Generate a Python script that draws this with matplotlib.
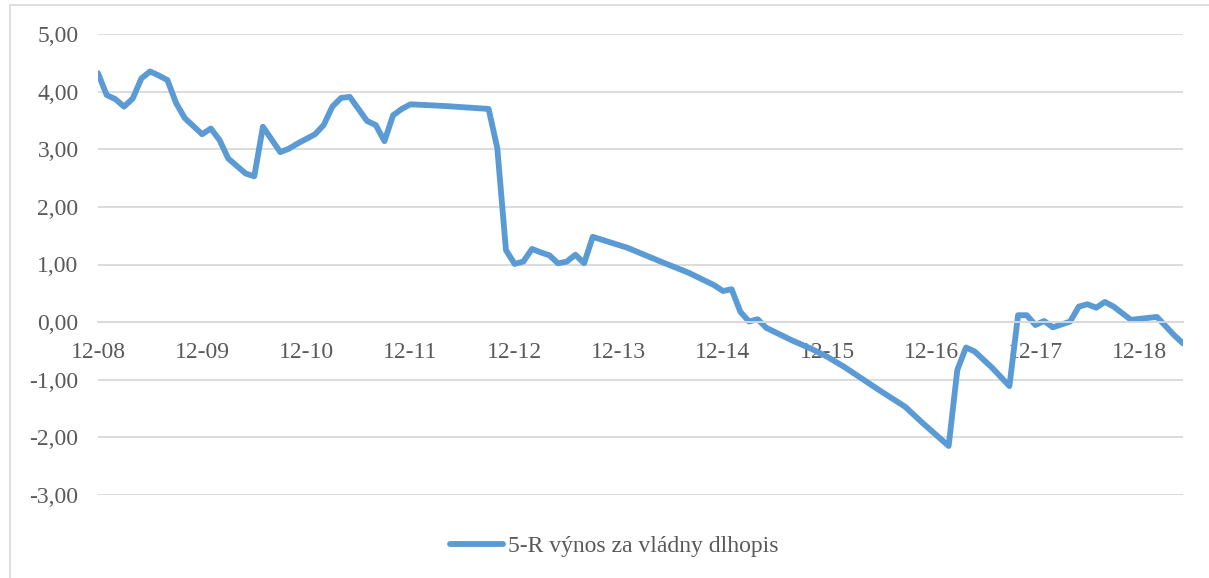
import matplotlib
matplotlib.use("Agg")
import matplotlib.pyplot as plt
from matplotlib.patches import Rectangle

# Observation months (YYYY-MM) and 5-year government bond yield (%)
months = [
    "2008-12", "2009-01", "2009-02", "2009-03", "2009-04", "2009-05", "2009-06",
    "2009-07", "2009-08", "2009-09", "2009-10", "2009-11", "2009-12",
    "2010-01", "2010-02", "2010-03", "2010-04", "2010-05", "2010-06",
    "2010-07", "2010-08", "2010-09", "2010-10", "2010-11", "2010-12",
    "2011-01", "2011-02", "2011-03", "2011-04", "2011-05", "2011-06",
    "2011-07", "2011-08", "2011-09", "2011-10", "2011-11", "2011-12",
    "2012-04", "2012-09", "2012-10", "2012-11", "2012-12",
    "2013-01", "2013-02", "2013-03", "2013-04", "2013-05", "2013-06",
    "2013-07", "2013-08", "2013-09", "2014-01", "2014-05", "2014-08",
    "2014-11", "2014-12", "2015-01", "2015-02", "2015-03", "2015-04",
    "2015-05", "2015-08", "2015-10", "2015-12", "2016-02", "2016-04",
    "2016-06", "2016-09", "2016-11", "2017-02", "2017-03", "2017-04",
    "2017-05", "2017-07", "2017-08", "2017-09", "2017-10", "2017-11",
    "2017-12", "2018-01", "2018-02", "2018-04", "2018-05", "2018-06",
    "2018-07", "2018-08", "2018-09", "2018-11", "2019-02", "2019-04",
    "2019-05",
]
yields = [
    4.32, 3.94, 3.87, 3.74, 3.88, 4.23, 4.35,
    4.28, 4.20, 3.80, 3.54, 3.40, 3.26,
    3.36, 3.16, 2.84, 2.71, 2.58, 2.53,
    3.39, 3.17, 2.95, 3.01, 3.10, 3.18,
    3.26, 3.42, 3.74, 3.89, 3.91, 3.70,
    3.49, 3.42, 3.14, 3.59, 3.70, 3.78,
    3.75, 3.70, 3.02, 1.25, 1.01,
    1.05, 1.27, 1.21, 1.16, 1.02, 1.05,
    1.17, 1.02, 1.48, 1.29, 1.04, 0.86,
    0.64, 0.54, 0.57, 0.18, 0.01, 0.05,
    -0.10, -0.32, -0.45, -0.60, -0.78, -0.98,
    -1.18, -1.47, -1.75, -2.15, -0.83, -0.44,
    -0.51, -0.79, -0.95, -1.11, 0.12, 0.12,
    -0.05, 0.02, -0.09, 0.01, 0.27, 0.31,
    0.25, 0.35, 0.27, 0.04, 0.09, -0.23,
    -0.37,
]
tick_labels = ["12-08", "12-09", "12-10", "12-11", "12-12", "12-13",
               "12-14", "12-15", "12-16", "12-17", "12-18"]
y_ticks = [5, 4, 3, 2, 1, 0, -1, -2, -3]
series_name = "5-R výnos za vládny dlhopis"

LINE = "#5B9BD5"
GRID = "#D9D9D9"
TEXT = "#595959"
FONT = ["Liberation Serif", "DejaVu Serif"]
FS = 17

plt.rcParams["font.family"] = FONT


def month_index(s):
    y, m = s.split("-")
    return (int(y) - 2008) * 12 + int(m) - 12


x = [month_index(m) for m in months]

W, H = 1209, 578
fig = plt.figure(figsize=(W / 100, H / 100), dpi=100)
fig.patch.set_facecolor("white")

# chart area frame
fig.patches.append(Rectangle((10 / W, -0.1), 1.2, 1 - 5 / H + 0.1,
                             transform=fig.transFigure, fill=False,
                             edgecolor=GRID, linewidth=1.2))

left, right, top, bottom = 98, 1183, 34, 495
ax = fig.add_axes([left / W, 1 - bottom / H, (right - left) / W, (bottom - top) / H])
ax.set_xlim(0, 125)
ax.set_ylim(-3, 5)

ax.set_yticks(y_ticks)
ax.set_yticklabels([f"{v:.2f}".replace(".", ",") for v in y_ticks])
ax.grid(axis="y", color=GRID, linewidth=1.3)
ax.set_axisbelow(True)

ax.set_xticks([12 * i for i in range(len(tick_labels))])
ax.set_xticklabels(tick_labels)

for side in ("top", "right", "left"):
    ax.spines[side].set_visible(False)
ax.spines["bottom"].set_position(("data", 0))
ax.spines["bottom"].set_color(GRID)
ax.spines["bottom"].set_linewidth(1.3)

ax.tick_params(axis="y", length=0, pad=14, labelsize=FS, labelcolor=TEXT)
ax.tick_params(axis="x", length=0, pad=14, labelsize=FS, labelcolor=TEXT)

line, = ax.plot(x, yields, color=LINE, linewidth=4.2, solid_joinstyle="round",
                solid_capstyle="round", label=series_name)

fig.legend(handles=[line], labels=[series_name], loc="center",
           bbox_to_anchor=(614 / W, 1 - 546 / H), frameon=False,
           fontsize=FS, labelcolor=TEXT, handlelength=2.25, handletextpad=0.2)

fig.savefig("out.png", dpi=100)
